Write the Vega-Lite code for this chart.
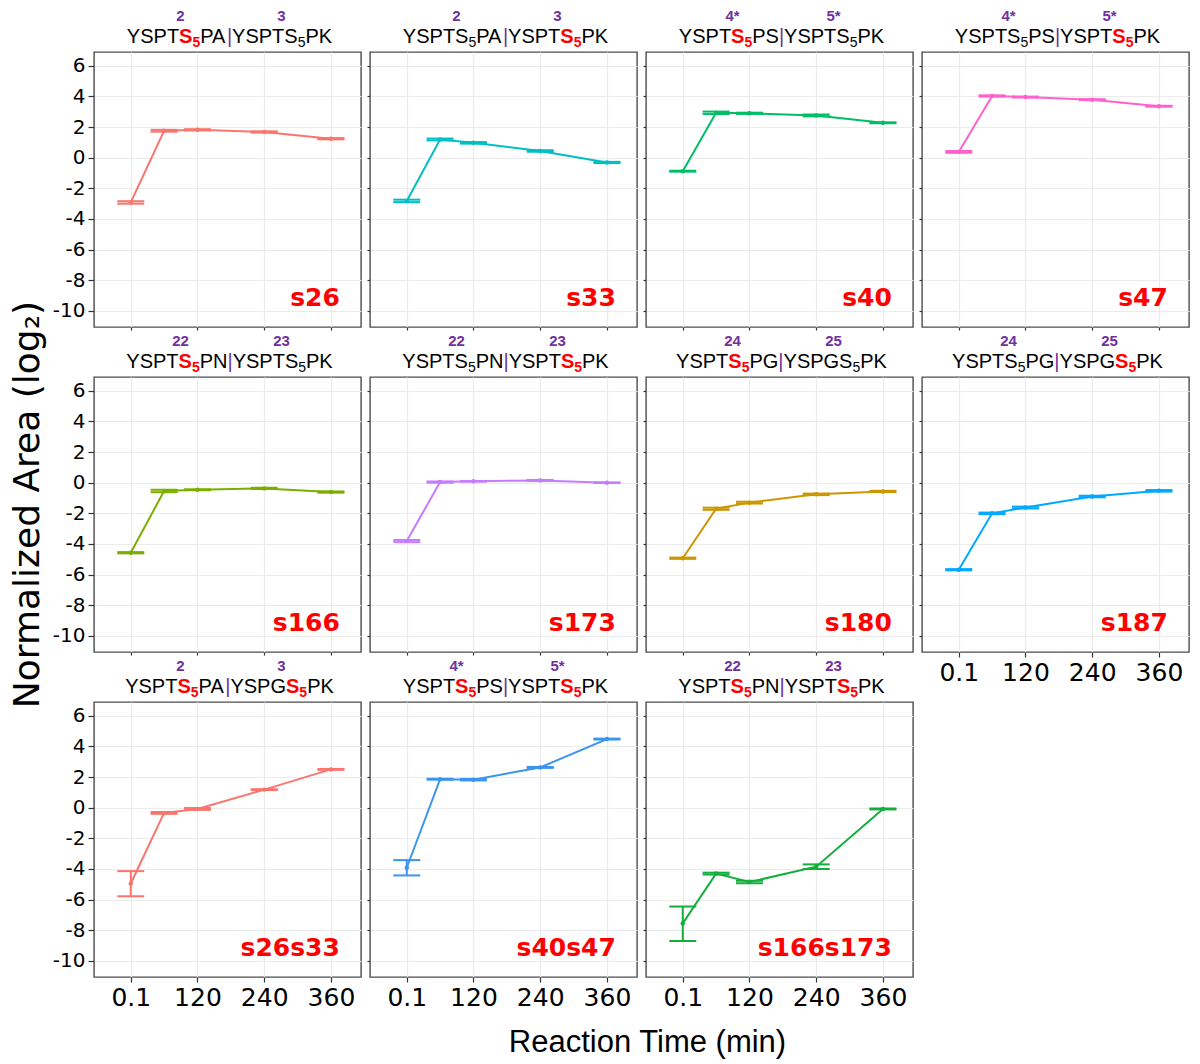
{
 "$schema": "https://vega.github.io/schema/vega-lite/v6.json",
 "background": "white",
 "padding": {"left": 8, "top": 8, "right": 4, "bottom": 4},
 "columns": 4,
 "spacing": {"row": 50, "column": 9},
 "bounds": "flush",
 "datasets": {"d": [
  {"p":"s26","t":0.1,"m":-2.92,"lo":-3.0,"hi":-2.84},
  {"p":"s26","t":60,"m":1.76,"lo":1.7,"hi":1.82},
  {"p":"s26","t":120,"m":1.82,"lo":1.78,"hi":1.86},
  {"p":"s26","t":240,"m":1.68,"lo":1.64,"hi":1.72},
  {"p":"s26","t":360,"m":1.24,"lo":1.2,"hi":1.28},
  {"p":"s33","t":0.1,"m":-2.82,"lo":-2.9,"hi":-2.74},
  {"p":"s33","t":60,"m":1.19,"lo":1.13,"hi":1.25},
  {"p":"s33","t":120,"m":0.97,"lo":0.92,"hi":1.02},
  {"p":"s33","t":240,"m":0.44,"lo":0.39,"hi":0.49},
  {"p":"s33","t":360,"m":-0.31,"lo":-0.35,"hi":-0.27},
  {"p":"s40","t":0.1,"m":-0.88,"lo":-0.91,"hi":-0.85},
  {"p":"s40","t":60,"m":2.93,"lo":2.85,"hi":3.01},
  {"p":"s40","t":120,"m":2.9,"lo":2.86,"hi":2.94},
  {"p":"s40","t":240,"m":2.76,"lo":2.7,"hi":2.82},
  {"p":"s40","t":360,"m":2.28,"lo":2.25,"hi":2.31},
  {"p":"s47","t":0.1,"m":0.38,"lo":0.32,"hi":0.44},
  {"p":"s47","t":60,"m":4.03,"lo":3.99,"hi":4.07},
  {"p":"s47","t":120,"m":3.96,"lo":3.93,"hi":3.99},
  {"p":"s47","t":240,"m":3.79,"lo":3.76,"hi":3.82},
  {"p":"s47","t":360,"m":3.36,"lo":3.33,"hi":3.39},
  {"p":"s166","t":0.1,"m":-4.57,"lo":-4.61,"hi":-4.53},
  {"p":"s166","t":60,"m":-0.54,"lo":-0.62,"hi":-0.46},
  {"p":"s166","t":120,"m":-0.46,"lo":-0.49,"hi":-0.43},
  {"p":"s166","t":240,"m":-0.37,"lo":-0.41,"hi":-0.33},
  {"p":"s166","t":360,"m":-0.61,"lo":-0.65,"hi":-0.57},
  {"p":"s173","t":0.1,"m":-3.81,"lo":-3.88,"hi":-3.74},
  {"p":"s173","t":60,"m":0.04,"lo":0.0,"hi":0.08},
  {"p":"s173","t":120,"m":0.09,"lo":0.07,"hi":0.11},
  {"p":"s173","t":240,"m":0.15,"lo":0.12,"hi":0.18},
  {"p":"s173","t":360,"m":0.0,"lo":-0.02,"hi":0.02},
  {"p":"s180","t":0.1,"m":-4.93,"lo":-4.97,"hi":-4.89},
  {"p":"s180","t":60,"m":-1.7,"lo":-1.77,"hi":-1.63},
  {"p":"s180","t":120,"m":-1.3,"lo":-1.36,"hi":-1.24},
  {"p":"s180","t":240,"m":-0.76,"lo":-0.81,"hi":-0.71},
  {"p":"s180","t":360,"m":-0.57,"lo":-0.61,"hi":-0.53},
  {"p":"s187","t":0.1,"m":-5.68,"lo":-5.72,"hi":-5.64},
  {"p":"s187","t":60,"m":-2.0,"lo":-2.05,"hi":-1.95},
  {"p":"s187","t":120,"m":-1.62,"lo":-1.68,"hi":-1.56},
  {"p":"s187","t":240,"m":-0.9,"lo":-0.95,"hi":-0.85},
  {"p":"s187","t":360,"m":-0.53,"lo":-0.58,"hi":-0.48},
  {"p":"s26s33","t":0.1,"m":-4.95,"lo":-5.78,"hi":-4.14},
  {"p":"s26s33","t":60,"m":-0.34,"lo":-0.4,"hi":-0.28},
  {"p":"s26s33","t":120,"m":-0.08,"lo":-0.14,"hi":-0.02},
  {"p":"s26s33","t":240,"m":1.18,"lo":1.15,"hi":1.21},
  {"p":"s26s33","t":360,"m":2.5,"lo":2.47,"hi":2.53},
  {"p":"s40s47","t":0.1,"m":-3.92,"lo":-4.42,"hi":-3.42},
  {"p":"s40s47","t":60,"m":1.86,"lo":1.83,"hi":1.89},
  {"p":"s40s47","t":120,"m":1.83,"lo":1.78,"hi":1.88},
  {"p":"s40s47","t":240,"m":2.63,"lo":2.6,"hi":2.66},
  {"p":"s40s47","t":360,"m":4.48,"lo":4.45,"hi":4.51},
  {"p":"s166s173","t":0.1,"m":-7.55,"lo":-8.7,"hi":-6.45},
  {"p":"s166s173","t":60,"m":-4.3,"lo":-4.36,"hi":-4.24},
  {"p":"s166s173","t":120,"m":-4.85,"lo":-4.93,"hi":-4.77},
  {"p":"s166s173","t":240,"m":-3.85,"lo":-4.0,"hi":-3.7},
  {"p":"s166s173","t":360,"m":-0.08,"lo":-0.11,"hi":-0.05}
 ]},
 "concat": [
  {"width":267,"height":275,"layer":[
   {"data":{"name":"d"},"transform":[{"filter":"datum.p==='s26'"}],
    "encoding":{"x":{"field":"t","type":"quantitative","title":null,"scale":{"domain":[-66,414],"nice":false,"zero":false},"axis":{"values":[0.1,120,240,360],"tickCount":20,"labels":false,"tickSize":3,"title":null}}},
    "layer":[
     {"mark":{"type":"rule","color":"#F8766D","strokeWidth":2},"encoding":{"y":{"field":"lo","type":"quantitative","title":null,"scale":{"domain":[-11.05,6.9],"nice":false,"zero":false},"axis":{"values":[-10,-8,-6,-4,-2,0,2,4,6],"tickCount":20,"labelExpr":"datum.value + ''","labelFontSize":20,"labelOverlap":false,"tickSize":6,"labelPadding":3,"title":null}},"y2":{"field":"hi"}}},
     {"mark":{"type":"tick","orient":"horizontal","color":"#F8766D","size":27,"thickness":2,"opacity":1},"encoding":{"y":{"field":"lo","type":"quantitative","title":null}}},
     {"mark":{"type":"tick","orient":"horizontal","color":"#F8766D","size":27,"thickness":2,"opacity":1},"encoding":{"y":{"field":"hi","type":"quantitative","title":null}}},
     {"mark":{"type":"line","color":"#F8766D","strokeWidth":2},"encoding":{"y":{"field":"m","type":"quantitative","title":null}}},
     {"mark":{"type":"point","filled":true,"color":"#F8766D","size":20,"opacity":1},"encoding":{"y":{"field":"m","type":"quantitative","title":null}}}
    ]},
   {"data":{"values":[{}]},"layer":[
    {"mark":{"type":"text","font":"DejaVu Sans","fontWeight":"bold","fontSize":25,"color":"#FF0000","align":"right"},"encoding":{"x":{"datum":376},"y":{"datum":-9.7},"text":{"value":"s26"}}},
    {"mark":{"type":"text"},"encoding":{"x":{"datum":-6.93},"y":{"datum":7.485},"text":{"value":"YSPT"}}},
    {"mark":{"type":"text","color":"#FF0000","fontWeight":"bold"},"encoding":{"x":{"datum":86.99},"y":{"datum":7.485},"text":{"value":"S"}}},
    {"mark":{"type":"text","color":"#FF0000","fontWeight":"bold","fontSize":14},"encoding":{"x":{"datum":110.97},"y":{"datum":7.225},"text":{"value":"5"}}},
    {"mark":{"type":"text"},"encoding":{"x":{"datum":124.96},"y":{"datum":7.485},"text":{"value":"PA"}}},
    {"mark":{"type":"text","color":"#7030A0"},"encoding":{"x":{"datum":172.92},"y":{"datum":7.485},"text":{"value":"|"}}},
    {"mark":{"type":"text"},"encoding":{"x":{"datum":182.27},"y":{"datum":7.485},"text":{"value":"YSPT"}}},
    {"mark":{"type":"text"},"encoding":{"x":{"datum":276.19},"y":{"datum":7.485},"text":{"value":"S"}}},
    {"mark":{"type":"text","fontSize":14},"encoding":{"x":{"datum":300.17},"y":{"datum":7.225},"text":{"value":"5"}}},
    {"mark":{"type":"text"},"encoding":{"x":{"datum":314.16},"y":{"datum":7.485},"text":{"value":"PK"}}},
    {"mark":{"type":"text","color":"#7030A0","fontWeight":"bold","fontSize":15,"align":"center"},"encoding":{"x":{"datum":89.5},"y":{"datum":8.9},"text":{"value":"2"}}},
    {"mark":{"type":"text","color":"#7030A0","fontWeight":"bold","fontSize":15,"align":"center"},"encoding":{"x":{"datum":271.1},"y":{"datum":8.9},"text":{"value":"3"}}}
   ]}
  ]},
  {"width":267,"height":275,"layer":[
   {"data":{"name":"d"},"transform":[{"filter":"datum.p==='s33'"}],
    "encoding":{"x":{"field":"t","type":"quantitative","title":null,"scale":{"domain":[-66,414],"nice":false,"zero":false},"axis":{"values":[0.1,120,240,360],"tickCount":20,"labels":false,"tickSize":3,"title":null}}},
    "layer":[
     {"mark":{"type":"rule","color":"#00BFC4","strokeWidth":2},"encoding":{"y":{"field":"lo","type":"quantitative","title":null,"scale":{"domain":[-11.05,6.9],"nice":false,"zero":false},"axis":{"values":[-10,-8,-6,-4,-2,0,2,4,6],"tickCount":20,"labels":false,"tickSize":3,"title":null}},"y2":{"field":"hi"}}},
     {"mark":{"type":"tick","orient":"horizontal","color":"#00BFC4","size":27,"thickness":2,"opacity":1},"encoding":{"y":{"field":"lo","type":"quantitative","title":null}}},
     {"mark":{"type":"tick","orient":"horizontal","color":"#00BFC4","size":27,"thickness":2,"opacity":1},"encoding":{"y":{"field":"hi","type":"quantitative","title":null}}},
     {"mark":{"type":"line","color":"#00BFC4","strokeWidth":2},"encoding":{"y":{"field":"m","type":"quantitative","title":null}}},
     {"mark":{"type":"point","filled":true,"color":"#00BFC4","size":20,"opacity":1},"encoding":{"y":{"field":"m","type":"quantitative","title":null}}}
    ]},
   {"data":{"values":[{}]},"layer":[
    {"mark":{"type":"text","font":"DejaVu Sans","fontWeight":"bold","fontSize":25,"color":"#FF0000","align":"right"},"encoding":{"x":{"datum":376},"y":{"datum":-9.7},"text":{"value":"s33"}}},
    {"mark":{"type":"text"},"encoding":{"x":{"datum":-6.93},"y":{"datum":7.485},"text":{"value":"YSPT"}}},
    {"mark":{"type":"text"},"encoding":{"x":{"datum":86.99},"y":{"datum":7.485},"text":{"value":"S"}}},
    {"mark":{"type":"text","fontSize":14},"encoding":{"x":{"datum":110.97},"y":{"datum":7.225},"text":{"value":"5"}}},
    {"mark":{"type":"text"},"encoding":{"x":{"datum":124.96},"y":{"datum":7.485},"text":{"value":"PA"}}},
    {"mark":{"type":"text","color":"#7030A0"},"encoding":{"x":{"datum":172.92},"y":{"datum":7.485},"text":{"value":"|"}}},
    {"mark":{"type":"text"},"encoding":{"x":{"datum":182.27},"y":{"datum":7.485},"text":{"value":"YSPT"}}},
    {"mark":{"type":"text","color":"#FF0000","fontWeight":"bold"},"encoding":{"x":{"datum":276.19},"y":{"datum":7.485},"text":{"value":"S"}}},
    {"mark":{"type":"text","color":"#FF0000","fontWeight":"bold","fontSize":14},"encoding":{"x":{"datum":300.17},"y":{"datum":7.225},"text":{"value":"5"}}},
    {"mark":{"type":"text"},"encoding":{"x":{"datum":314.16},"y":{"datum":7.485},"text":{"value":"PK"}}},
    {"mark":{"type":"text","color":"#7030A0","fontWeight":"bold","fontSize":15,"align":"center"},"encoding":{"x":{"datum":89.5},"y":{"datum":8.9},"text":{"value":"2"}}},
    {"mark":{"type":"text","color":"#7030A0","fontWeight":"bold","fontSize":15,"align":"center"},"encoding":{"x":{"datum":271.1},"y":{"datum":8.9},"text":{"value":"3"}}}
   ]}
  ]},
  {"width":267,"height":275,"layer":[
   {"data":{"name":"d"},"transform":[{"filter":"datum.p==='s40'"}],
    "encoding":{"x":{"field":"t","type":"quantitative","title":null,"scale":{"domain":[-66,414],"nice":false,"zero":false},"axis":{"values":[0.1,120,240,360],"tickCount":20,"labels":false,"tickSize":3,"title":null}}},
    "layer":[
     {"mark":{"type":"rule","color":"#00BE67","strokeWidth":2},"encoding":{"y":{"field":"lo","type":"quantitative","title":null,"scale":{"domain":[-11.05,6.9],"nice":false,"zero":false},"axis":{"values":[-10,-8,-6,-4,-2,0,2,4,6],"tickCount":20,"labels":false,"tickSize":3,"title":null}},"y2":{"field":"hi"}}},
     {"mark":{"type":"tick","orient":"horizontal","color":"#00BE67","size":27,"thickness":2,"opacity":1},"encoding":{"y":{"field":"lo","type":"quantitative","title":null}}},
     {"mark":{"type":"tick","orient":"horizontal","color":"#00BE67","size":27,"thickness":2,"opacity":1},"encoding":{"y":{"field":"hi","type":"quantitative","title":null}}},
     {"mark":{"type":"line","color":"#00BE67","strokeWidth":2},"encoding":{"y":{"field":"m","type":"quantitative","title":null}}},
     {"mark":{"type":"point","filled":true,"color":"#00BE67","size":20,"opacity":1},"encoding":{"y":{"field":"m","type":"quantitative","title":null}}}
    ]},
   {"data":{"values":[{}]},"layer":[
    {"mark":{"type":"text","font":"DejaVu Sans","fontWeight":"bold","fontSize":25,"color":"#FF0000","align":"right"},"encoding":{"x":{"datum":376},"y":{"datum":-9.7},"text":{"value":"s40"}}},
    {"mark":{"type":"text"},"encoding":{"x":{"datum":-6.93},"y":{"datum":7.485},"text":{"value":"YSPT"}}},
    {"mark":{"type":"text","color":"#FF0000","fontWeight":"bold"},"encoding":{"x":{"datum":86.99},"y":{"datum":7.485},"text":{"value":"S"}}},
    {"mark":{"type":"text","color":"#FF0000","fontWeight":"bold","fontSize":14},"encoding":{"x":{"datum":110.97},"y":{"datum":7.225},"text":{"value":"5"}}},
    {"mark":{"type":"text"},"encoding":{"x":{"datum":124.96},"y":{"datum":7.485},"text":{"value":"PS"}}},
    {"mark":{"type":"text","color":"#7030A0"},"encoding":{"x":{"datum":172.92},"y":{"datum":7.485},"text":{"value":"|"}}},
    {"mark":{"type":"text"},"encoding":{"x":{"datum":182.27},"y":{"datum":7.485},"text":{"value":"YSPT"}}},
    {"mark":{"type":"text"},"encoding":{"x":{"datum":276.19},"y":{"datum":7.485},"text":{"value":"S"}}},
    {"mark":{"type":"text","fontSize":14},"encoding":{"x":{"datum":300.17},"y":{"datum":7.225},"text":{"value":"5"}}},
    {"mark":{"type":"text"},"encoding":{"x":{"datum":314.16},"y":{"datum":7.485},"text":{"value":"PK"}}},
    {"mark":{"type":"text","color":"#7030A0","fontWeight":"bold","fontSize":15,"align":"center"},"encoding":{"x":{"datum":89.5},"y":{"datum":8.9},"text":{"value":"4*"}}},
    {"mark":{"type":"text","color":"#7030A0","fontWeight":"bold","fontSize":15,"align":"center"},"encoding":{"x":{"datum":271.1},"y":{"datum":8.9},"text":{"value":"5*"}}}
   ]}
  ]},
  {"width":267,"height":275,"layer":[
   {"data":{"name":"d"},"transform":[{"filter":"datum.p==='s47'"}],
    "encoding":{"x":{"field":"t","type":"quantitative","title":null,"scale":{"domain":[-66,414],"nice":false,"zero":false},"axis":{"values":[0.1,120,240,360],"tickCount":20,"labels":false,"tickSize":3,"title":null}}},
    "layer":[
     {"mark":{"type":"rule","color":"#FF61CC","strokeWidth":2},"encoding":{"y":{"field":"lo","type":"quantitative","title":null,"scale":{"domain":[-11.05,6.9],"nice":false,"zero":false},"axis":{"values":[-10,-8,-6,-4,-2,0,2,4,6],"tickCount":20,"labels":false,"tickSize":3,"title":null}},"y2":{"field":"hi"}}},
     {"mark":{"type":"tick","orient":"horizontal","color":"#FF61CC","size":27,"thickness":2,"opacity":1},"encoding":{"y":{"field":"lo","type":"quantitative","title":null}}},
     {"mark":{"type":"tick","orient":"horizontal","color":"#FF61CC","size":27,"thickness":2,"opacity":1},"encoding":{"y":{"field":"hi","type":"quantitative","title":null}}},
     {"mark":{"type":"line","color":"#FF61CC","strokeWidth":2},"encoding":{"y":{"field":"m","type":"quantitative","title":null}}},
     {"mark":{"type":"point","filled":true,"color":"#FF61CC","size":20,"opacity":1},"encoding":{"y":{"field":"m","type":"quantitative","title":null}}}
    ]},
   {"data":{"values":[{}]},"layer":[
    {"mark":{"type":"text","font":"DejaVu Sans","fontWeight":"bold","fontSize":25,"color":"#FF0000","align":"right"},"encoding":{"x":{"datum":376},"y":{"datum":-9.7},"text":{"value":"s47"}}},
    {"mark":{"type":"text"},"encoding":{"x":{"datum":-6.93},"y":{"datum":7.485},"text":{"value":"YSPT"}}},
    {"mark":{"type":"text"},"encoding":{"x":{"datum":86.99},"y":{"datum":7.485},"text":{"value":"S"}}},
    {"mark":{"type":"text","fontSize":14},"encoding":{"x":{"datum":110.97},"y":{"datum":7.225},"text":{"value":"5"}}},
    {"mark":{"type":"text"},"encoding":{"x":{"datum":124.96},"y":{"datum":7.485},"text":{"value":"PS"}}},
    {"mark":{"type":"text","color":"#7030A0"},"encoding":{"x":{"datum":172.92},"y":{"datum":7.485},"text":{"value":"|"}}},
    {"mark":{"type":"text"},"encoding":{"x":{"datum":182.27},"y":{"datum":7.485},"text":{"value":"YSPT"}}},
    {"mark":{"type":"text","color":"#FF0000","fontWeight":"bold"},"encoding":{"x":{"datum":276.19},"y":{"datum":7.485},"text":{"value":"S"}}},
    {"mark":{"type":"text","color":"#FF0000","fontWeight":"bold","fontSize":14},"encoding":{"x":{"datum":300.17},"y":{"datum":7.225},"text":{"value":"5"}}},
    {"mark":{"type":"text"},"encoding":{"x":{"datum":314.16},"y":{"datum":7.485},"text":{"value":"PK"}}},
    {"mark":{"type":"text","color":"#7030A0","fontWeight":"bold","fontSize":15,"align":"center"},"encoding":{"x":{"datum":89.5},"y":{"datum":8.9},"text":{"value":"4*"}}},
    {"mark":{"type":"text","color":"#7030A0","fontWeight":"bold","fontSize":15,"align":"center"},"encoding":{"x":{"datum":271.1},"y":{"datum":8.9},"text":{"value":"5*"}}}
   ]}
  ]},
  {"width":267,"height":275,"layer":[
   {"data":{"name":"d"},"transform":[{"filter":"datum.p==='s166'"}],
    "encoding":{"x":{"field":"t","type":"quantitative","title":null,"scale":{"domain":[-66,414],"nice":false,"zero":false},"axis":{"values":[0.1,120,240,360],"tickCount":20,"labels":false,"tickSize":3,"title":null}}},
    "layer":[
     {"mark":{"type":"rule","color":"#7CAE00","strokeWidth":2},"encoding":{"y":{"field":"lo","type":"quantitative","title":"Normalized Area (log₂)","scale":{"domain":[-11.05,6.9],"nice":false,"zero":false},"axis":{"values":[-10,-8,-6,-4,-2,0,2,4,6],"tickCount":20,"labelExpr":"datum.value + ''","labelFontSize":20,"labelOverlap":false,"tickSize":6,"labelPadding":3,"title":"Normalized Area (log₂)","titleFontSize":36,"titleY":127,"titlePadding":6}},"y2":{"field":"hi"}}},
     {"mark":{"type":"tick","orient":"horizontal","color":"#7CAE00","size":27,"thickness":2,"opacity":1},"encoding":{"y":{"field":"lo","type":"quantitative","title":"Normalized Area (log₂)"}}},
     {"mark":{"type":"tick","orient":"horizontal","color":"#7CAE00","size":27,"thickness":2,"opacity":1},"encoding":{"y":{"field":"hi","type":"quantitative","title":"Normalized Area (log₂)"}}},
     {"mark":{"type":"line","color":"#7CAE00","strokeWidth":2},"encoding":{"y":{"field":"m","type":"quantitative","title":"Normalized Area (log₂)"}}},
     {"mark":{"type":"point","filled":true,"color":"#7CAE00","size":20,"opacity":1},"encoding":{"y":{"field":"m","type":"quantitative","title":"Normalized Area (log₂)"}}}
    ]},
   {"data":{"values":[{}]},"layer":[
    {"mark":{"type":"text","font":"DejaVu Sans","fontWeight":"bold","fontSize":25,"color":"#FF0000","align":"right"},"encoding":{"x":{"datum":376},"y":{"datum":-9.7},"text":{"value":"s166"}}},
    {"mark":{"type":"text"},"encoding":{"x":{"datum":-7.92},"y":{"datum":7.485},"text":{"value":"YSPT"}}},
    {"mark":{"type":"text","color":"#FF0000","fontWeight":"bold"},"encoding":{"x":{"datum":86.0},"y":{"datum":7.485},"text":{"value":"S"}}},
    {"mark":{"type":"text","color":"#FF0000","fontWeight":"bold","fontSize":14},"encoding":{"x":{"datum":109.98},"y":{"datum":7.225},"text":{"value":"5"}}},
    {"mark":{"type":"text"},"encoding":{"x":{"datum":123.97},"y":{"datum":7.485},"text":{"value":"PN"}}},
    {"mark":{"type":"text","color":"#7030A0"},"encoding":{"x":{"datum":173.91},"y":{"datum":7.485},"text":{"value":"|"}}},
    {"mark":{"type":"text"},"encoding":{"x":{"datum":183.26},"y":{"datum":7.485},"text":{"value":"YSPT"}}},
    {"mark":{"type":"text"},"encoding":{"x":{"datum":277.18},"y":{"datum":7.485},"text":{"value":"S"}}},
    {"mark":{"type":"text","fontSize":14},"encoding":{"x":{"datum":301.16},"y":{"datum":7.225},"text":{"value":"5"}}},
    {"mark":{"type":"text"},"encoding":{"x":{"datum":315.15},"y":{"datum":7.485},"text":{"value":"PK"}}},
    {"mark":{"type":"text","color":"#7030A0","fontWeight":"bold","fontSize":15,"align":"center"},"encoding":{"x":{"datum":89.5},"y":{"datum":8.9},"text":{"value":"22"}}},
    {"mark":{"type":"text","color":"#7030A0","fontWeight":"bold","fontSize":15,"align":"center"},"encoding":{"x":{"datum":271.1},"y":{"datum":8.9},"text":{"value":"23"}}}
   ]}
  ]},
  {"width":267,"height":275,"layer":[
   {"data":{"name":"d"},"transform":[{"filter":"datum.p==='s173'"}],
    "encoding":{"x":{"field":"t","type":"quantitative","title":null,"scale":{"domain":[-66,414],"nice":false,"zero":false},"axis":{"values":[0.1,120,240,360],"tickCount":20,"labels":false,"tickSize":3,"title":null}}},
    "layer":[
     {"mark":{"type":"rule","color":"#C77CFF","strokeWidth":2},"encoding":{"y":{"field":"lo","type":"quantitative","title":null,"scale":{"domain":[-11.05,6.9],"nice":false,"zero":false},"axis":{"values":[-10,-8,-6,-4,-2,0,2,4,6],"tickCount":20,"labels":false,"tickSize":3,"title":null}},"y2":{"field":"hi"}}},
     {"mark":{"type":"tick","orient":"horizontal","color":"#C77CFF","size":27,"thickness":2,"opacity":1},"encoding":{"y":{"field":"lo","type":"quantitative","title":null}}},
     {"mark":{"type":"tick","orient":"horizontal","color":"#C77CFF","size":27,"thickness":2,"opacity":1},"encoding":{"y":{"field":"hi","type":"quantitative","title":null}}},
     {"mark":{"type":"line","color":"#C77CFF","strokeWidth":2},"encoding":{"y":{"field":"m","type":"quantitative","title":null}}},
     {"mark":{"type":"point","filled":true,"color":"#C77CFF","size":20,"opacity":1},"encoding":{"y":{"field":"m","type":"quantitative","title":null}}}
    ]},
   {"data":{"values":[{}]},"layer":[
    {"mark":{"type":"text","font":"DejaVu Sans","fontWeight":"bold","fontSize":25,"color":"#FF0000","align":"right"},"encoding":{"x":{"datum":376},"y":{"datum":-9.7},"text":{"value":"s173"}}},
    {"mark":{"type":"text"},"encoding":{"x":{"datum":-7.92},"y":{"datum":7.485},"text":{"value":"YSPT"}}},
    {"mark":{"type":"text"},"encoding":{"x":{"datum":86.0},"y":{"datum":7.485},"text":{"value":"S"}}},
    {"mark":{"type":"text","fontSize":14},"encoding":{"x":{"datum":109.98},"y":{"datum":7.225},"text":{"value":"5"}}},
    {"mark":{"type":"text"},"encoding":{"x":{"datum":123.97},"y":{"datum":7.485},"text":{"value":"PN"}}},
    {"mark":{"type":"text","color":"#7030A0"},"encoding":{"x":{"datum":173.91},"y":{"datum":7.485},"text":{"value":"|"}}},
    {"mark":{"type":"text"},"encoding":{"x":{"datum":183.26},"y":{"datum":7.485},"text":{"value":"YSPT"}}},
    {"mark":{"type":"text","color":"#FF0000","fontWeight":"bold"},"encoding":{"x":{"datum":277.18},"y":{"datum":7.485},"text":{"value":"S"}}},
    {"mark":{"type":"text","color":"#FF0000","fontWeight":"bold","fontSize":14},"encoding":{"x":{"datum":301.16},"y":{"datum":7.225},"text":{"value":"5"}}},
    {"mark":{"type":"text"},"encoding":{"x":{"datum":315.15},"y":{"datum":7.485},"text":{"value":"PK"}}},
    {"mark":{"type":"text","color":"#7030A0","fontWeight":"bold","fontSize":15,"align":"center"},"encoding":{"x":{"datum":89.5},"y":{"datum":8.9},"text":{"value":"22"}}},
    {"mark":{"type":"text","color":"#7030A0","fontWeight":"bold","fontSize":15,"align":"center"},"encoding":{"x":{"datum":271.1},"y":{"datum":8.9},"text":{"value":"23"}}}
   ]}
  ]},
  {"width":267,"height":275,"layer":[
   {"data":{"name":"d"},"transform":[{"filter":"datum.p==='s180'"}],
    "encoding":{"x":{"field":"t","type":"quantitative","title":null,"scale":{"domain":[-66,414],"nice":false,"zero":false},"axis":{"values":[0.1,120,240,360],"tickCount":20,"labels":false,"tickSize":3,"title":null}}},
    "layer":[
     {"mark":{"type":"rule","color":"#CD9600","strokeWidth":2},"encoding":{"y":{"field":"lo","type":"quantitative","title":null,"scale":{"domain":[-11.05,6.9],"nice":false,"zero":false},"axis":{"values":[-10,-8,-6,-4,-2,0,2,4,6],"tickCount":20,"labels":false,"tickSize":3,"title":null}},"y2":{"field":"hi"}}},
     {"mark":{"type":"tick","orient":"horizontal","color":"#CD9600","size":27,"thickness":2,"opacity":1},"encoding":{"y":{"field":"lo","type":"quantitative","title":null}}},
     {"mark":{"type":"tick","orient":"horizontal","color":"#CD9600","size":27,"thickness":2,"opacity":1},"encoding":{"y":{"field":"hi","type":"quantitative","title":null}}},
     {"mark":{"type":"line","color":"#CD9600","strokeWidth":2},"encoding":{"y":{"field":"m","type":"quantitative","title":null}}},
     {"mark":{"type":"point","filled":true,"color":"#CD9600","size":20,"opacity":1},"encoding":{"y":{"field":"m","type":"quantitative","title":null}}}
    ]},
   {"data":{"values":[{}]},"layer":[
    {"mark":{"type":"text","font":"DejaVu Sans","fontWeight":"bold","fontSize":25,"color":"#FF0000","align":"right"},"encoding":{"x":{"datum":376},"y":{"datum":-9.7},"text":{"value":"s180"}}},
    {"mark":{"type":"text"},"encoding":{"x":{"datum":-11.93},"y":{"datum":7.485},"text":{"value":"YSPT"}}},
    {"mark":{"type":"text","color":"#FF0000","fontWeight":"bold"},"encoding":{"x":{"datum":81.99},"y":{"datum":7.485},"text":{"value":"S"}}},
    {"mark":{"type":"text","color":"#FF0000","fontWeight":"bold","fontSize":14},"encoding":{"x":{"datum":105.97},"y":{"datum":7.225},"text":{"value":"5"}}},
    {"mark":{"type":"text"},"encoding":{"x":{"datum":119.96},"y":{"datum":7.485},"text":{"value":"PG"}}},
    {"mark":{"type":"text","color":"#7030A0"},"encoding":{"x":{"datum":171.91},"y":{"datum":7.485},"text":{"value":"|"}}},
    {"mark":{"type":"text"},"encoding":{"x":{"datum":181.26},"y":{"datum":7.485},"text":{"value":"YSPG"}}},
    {"mark":{"type":"text"},"encoding":{"x":{"datum":281.19},"y":{"datum":7.485},"text":{"value":"S"}}},
    {"mark":{"type":"text","fontSize":14},"encoding":{"x":{"datum":305.17},"y":{"datum":7.225},"text":{"value":"5"}}},
    {"mark":{"type":"text"},"encoding":{"x":{"datum":319.16},"y":{"datum":7.485},"text":{"value":"PK"}}},
    {"mark":{"type":"text","color":"#7030A0","fontWeight":"bold","fontSize":15,"align":"center"},"encoding":{"x":{"datum":89.5},"y":{"datum":8.9},"text":{"value":"24"}}},
    {"mark":{"type":"text","color":"#7030A0","fontWeight":"bold","fontSize":15,"align":"center"},"encoding":{"x":{"datum":271.1},"y":{"datum":8.9},"text":{"value":"25"}}}
   ]}
  ]},
  {"width":267,"height":275,"layer":[
   {"data":{"name":"d"},"transform":[{"filter":"datum.p==='s187'"}],
    "encoding":{"x":{"field":"t","type":"quantitative","title":null,"scale":{"domain":[-66,414],"nice":false,"zero":false},"axis":{"values":[0.1,120,240,360],"tickCount":20,"labelExpr":"datum.value + ''","labelFontSize":25,"labelOverlap":false,"tickSize":5,"labelPadding":3,"title":null}}},
    "layer":[
     {"mark":{"type":"rule","color":"#00A9FF","strokeWidth":2},"encoding":{"y":{"field":"lo","type":"quantitative","title":null,"scale":{"domain":[-11.05,6.9],"nice":false,"zero":false},"axis":{"values":[-10,-8,-6,-4,-2,0,2,4,6],"tickCount":20,"labels":false,"tickSize":3,"title":null}},"y2":{"field":"hi"}}},
     {"mark":{"type":"tick","orient":"horizontal","color":"#00A9FF","size":27,"thickness":2,"opacity":1},"encoding":{"y":{"field":"lo","type":"quantitative","title":null}}},
     {"mark":{"type":"tick","orient":"horizontal","color":"#00A9FF","size":27,"thickness":2,"opacity":1},"encoding":{"y":{"field":"hi","type":"quantitative","title":null}}},
     {"mark":{"type":"line","color":"#00A9FF","strokeWidth":2},"encoding":{"y":{"field":"m","type":"quantitative","title":null}}},
     {"mark":{"type":"point","filled":true,"color":"#00A9FF","size":20,"opacity":1},"encoding":{"y":{"field":"m","type":"quantitative","title":null}}}
    ]},
   {"data":{"values":[{}]},"layer":[
    {"mark":{"type":"text","font":"DejaVu Sans","fontWeight":"bold","fontSize":25,"color":"#FF0000","align":"right"},"encoding":{"x":{"datum":376},"y":{"datum":-9.7},"text":{"value":"s187"}}},
    {"mark":{"type":"text"},"encoding":{"x":{"datum":-11.93},"y":{"datum":7.485},"text":{"value":"YSPT"}}},
    {"mark":{"type":"text"},"encoding":{"x":{"datum":81.99},"y":{"datum":7.485},"text":{"value":"S"}}},
    {"mark":{"type":"text","fontSize":14},"encoding":{"x":{"datum":105.97},"y":{"datum":7.225},"text":{"value":"5"}}},
    {"mark":{"type":"text"},"encoding":{"x":{"datum":119.96},"y":{"datum":7.485},"text":{"value":"PG"}}},
    {"mark":{"type":"text","color":"#7030A0"},"encoding":{"x":{"datum":171.91},"y":{"datum":7.485},"text":{"value":"|"}}},
    {"mark":{"type":"text"},"encoding":{"x":{"datum":181.26},"y":{"datum":7.485},"text":{"value":"YSPG"}}},
    {"mark":{"type":"text","color":"#FF0000","fontWeight":"bold"},"encoding":{"x":{"datum":281.19},"y":{"datum":7.485},"text":{"value":"S"}}},
    {"mark":{"type":"text","color":"#FF0000","fontWeight":"bold","fontSize":14},"encoding":{"x":{"datum":305.17},"y":{"datum":7.225},"text":{"value":"5"}}},
    {"mark":{"type":"text"},"encoding":{"x":{"datum":319.16},"y":{"datum":7.485},"text":{"value":"PK"}}},
    {"mark":{"type":"text","color":"#7030A0","fontWeight":"bold","fontSize":15,"align":"center"},"encoding":{"x":{"datum":89.5},"y":{"datum":8.9},"text":{"value":"24"}}},
    {"mark":{"type":"text","color":"#7030A0","fontWeight":"bold","fontSize":15,"align":"center"},"encoding":{"x":{"datum":271.1},"y":{"datum":8.9},"text":{"value":"25"}}}
   ]}
  ]},
  {"width":267,"height":275,"layer":[
   {"data":{"name":"d"},"transform":[{"filter":"datum.p==='s26s33'"}],
    "encoding":{"x":{"field":"t","type":"quantitative","title":null,"scale":{"domain":[-66,414],"nice":false,"zero":false},"axis":{"values":[0.1,120,240,360],"tickCount":20,"labelExpr":"datum.value + ''","labelFontSize":25,"labelOverlap":false,"tickSize":5,"labelPadding":3,"title":null}}},
    "layer":[
     {"mark":{"type":"rule","color":"#F8766D","strokeWidth":2},"encoding":{"y":{"field":"lo","type":"quantitative","title":null,"scale":{"domain":[-11.05,6.9],"nice":false,"zero":false},"axis":{"values":[-10,-8,-6,-4,-2,0,2,4,6],"tickCount":20,"labelExpr":"datum.value + ''","labelFontSize":20,"labelOverlap":false,"tickSize":6,"labelPadding":3,"title":null}},"y2":{"field":"hi"}}},
     {"mark":{"type":"tick","orient":"horizontal","color":"#F8766D","size":27,"thickness":2,"opacity":1},"encoding":{"y":{"field":"lo","type":"quantitative","title":null}}},
     {"mark":{"type":"tick","orient":"horizontal","color":"#F8766D","size":27,"thickness":2,"opacity":1},"encoding":{"y":{"field":"hi","type":"quantitative","title":null}}},
     {"mark":{"type":"line","color":"#F8766D","strokeWidth":2},"encoding":{"y":{"field":"m","type":"quantitative","title":null}}},
     {"mark":{"type":"point","filled":true,"color":"#F8766D","size":20,"opacity":1},"encoding":{"y":{"field":"m","type":"quantitative","title":null}}}
    ]},
   {"data":{"values":[{}]},"layer":[
    {"mark":{"type":"text","font":"DejaVu Sans","fontWeight":"bold","fontSize":25,"color":"#FF0000","align":"right"},"encoding":{"x":{"datum":376},"y":{"datum":-9.7},"text":{"value":"s26s33"}}},
    {"mark":{"type":"text"},"encoding":{"x":{"datum":-9.94},"y":{"datum":7.485},"text":{"value":"YSPT"}}},
    {"mark":{"type":"text","color":"#FF0000","fontWeight":"bold"},"encoding":{"x":{"datum":83.98},"y":{"datum":7.485},"text":{"value":"S"}}},
    {"mark":{"type":"text","color":"#FF0000","fontWeight":"bold","fontSize":14},"encoding":{"x":{"datum":107.97},"y":{"datum":7.225},"text":{"value":"5"}}},
    {"mark":{"type":"text"},"encoding":{"x":{"datum":121.95},"y":{"datum":7.485},"text":{"value":"PA"}}},
    {"mark":{"type":"text","color":"#7030A0"},"encoding":{"x":{"datum":169.92},"y":{"datum":7.485},"text":{"value":"|"}}},
    {"mark":{"type":"text"},"encoding":{"x":{"datum":179.27},"y":{"datum":7.485},"text":{"value":"YSPG"}}},
    {"mark":{"type":"text","color":"#FF0000","fontWeight":"bold"},"encoding":{"x":{"datum":279.19},"y":{"datum":7.485},"text":{"value":"S"}}},
    {"mark":{"type":"text","color":"#FF0000","fontWeight":"bold","fontSize":14},"encoding":{"x":{"datum":303.17},"y":{"datum":7.225},"text":{"value":"5"}}},
    {"mark":{"type":"text"},"encoding":{"x":{"datum":317.16},"y":{"datum":7.485},"text":{"value":"PK"}}},
    {"mark":{"type":"text","color":"#7030A0","fontWeight":"bold","fontSize":15,"align":"center"},"encoding":{"x":{"datum":89.5},"y":{"datum":8.9},"text":{"value":"2"}}},
    {"mark":{"type":"text","color":"#7030A0","fontWeight":"bold","fontSize":15,"align":"center"},"encoding":{"x":{"datum":271.1},"y":{"datum":8.9},"text":{"value":"3"}}}
   ]}
  ]},
  {"width":267,"height":275,"layer":[
   {"data":{"name":"d"},"transform":[{"filter":"datum.p==='s40s47'"}],
    "encoding":{"x":{"field":"t","type":"quantitative","title":null,"scale":{"domain":[-66,414],"nice":false,"zero":false},"axis":{"values":[0.1,120,240,360],"tickCount":20,"labelExpr":"datum.value + ''","labelFontSize":25,"labelOverlap":false,"tickSize":5,"labelPadding":3,"title":"Reaction Time (min)","titleFont":"Liberation Sans","titleFontSize":31,"titleX":277,"titleY":74,"titleBaseline":"alphabetic","titleAlign":"center"}}},
    "layer":[
     {"mark":{"type":"rule","color":"#3A95F0","strokeWidth":2},"encoding":{"y":{"field":"lo","type":"quantitative","title":null,"scale":{"domain":[-11.05,6.9],"nice":false,"zero":false},"axis":{"values":[-10,-8,-6,-4,-2,0,2,4,6],"tickCount":20,"labels":false,"tickSize":3,"title":null}},"y2":{"field":"hi"}}},
     {"mark":{"type":"tick","orient":"horizontal","color":"#3A95F0","size":27,"thickness":2,"opacity":1},"encoding":{"y":{"field":"lo","type":"quantitative","title":null}}},
     {"mark":{"type":"tick","orient":"horizontal","color":"#3A95F0","size":27,"thickness":2,"opacity":1},"encoding":{"y":{"field":"hi","type":"quantitative","title":null}}},
     {"mark":{"type":"line","color":"#3A95F0","strokeWidth":2},"encoding":{"y":{"field":"m","type":"quantitative","title":null}}},
     {"mark":{"type":"point","filled":true,"color":"#3A95F0","size":20,"opacity":1},"encoding":{"y":{"field":"m","type":"quantitative","title":null}}}
    ]},
   {"data":{"values":[{}]},"layer":[
    {"mark":{"type":"text","font":"DejaVu Sans","fontWeight":"bold","fontSize":25,"color":"#FF0000","align":"right"},"encoding":{"x":{"datum":376},"y":{"datum":-9.7},"text":{"value":"s40s47"}}},
    {"mark":{"type":"text"},"encoding":{"x":{"datum":-6.93},"y":{"datum":7.485},"text":{"value":"YSPT"}}},
    {"mark":{"type":"text","color":"#FF0000","fontWeight":"bold"},"encoding":{"x":{"datum":86.99},"y":{"datum":7.485},"text":{"value":"S"}}},
    {"mark":{"type":"text","color":"#FF0000","fontWeight":"bold","fontSize":14},"encoding":{"x":{"datum":110.97},"y":{"datum":7.225},"text":{"value":"5"}}},
    {"mark":{"type":"text"},"encoding":{"x":{"datum":124.96},"y":{"datum":7.485},"text":{"value":"PS"}}},
    {"mark":{"type":"text","color":"#7030A0"},"encoding":{"x":{"datum":172.92},"y":{"datum":7.485},"text":{"value":"|"}}},
    {"mark":{"type":"text"},"encoding":{"x":{"datum":182.27},"y":{"datum":7.485},"text":{"value":"YSPT"}}},
    {"mark":{"type":"text","color":"#FF0000","fontWeight":"bold"},"encoding":{"x":{"datum":276.19},"y":{"datum":7.485},"text":{"value":"S"}}},
    {"mark":{"type":"text","color":"#FF0000","fontWeight":"bold","fontSize":14},"encoding":{"x":{"datum":300.17},"y":{"datum":7.225},"text":{"value":"5"}}},
    {"mark":{"type":"text"},"encoding":{"x":{"datum":314.16},"y":{"datum":7.485},"text":{"value":"PK"}}},
    {"mark":{"type":"text","color":"#7030A0","fontWeight":"bold","fontSize":15,"align":"center"},"encoding":{"x":{"datum":89.5},"y":{"datum":8.9},"text":{"value":"4*"}}},
    {"mark":{"type":"text","color":"#7030A0","fontWeight":"bold","fontSize":15,"align":"center"},"encoding":{"x":{"datum":271.1},"y":{"datum":8.9},"text":{"value":"5*"}}}
   ]}
  ]},
  {"width":267,"height":275,"layer":[
   {"data":{"name":"d"},"transform":[{"filter":"datum.p==='s166s173'"}],
    "encoding":{"x":{"field":"t","type":"quantitative","title":null,"scale":{"domain":[-66,414],"nice":false,"zero":false},"axis":{"values":[0.1,120,240,360],"tickCount":20,"labelExpr":"datum.value + ''","labelFontSize":25,"labelOverlap":false,"tickSize":5,"labelPadding":3,"title":null}}},
    "layer":[
     {"mark":{"type":"rule","color":"#14AE3D","strokeWidth":2},"encoding":{"y":{"field":"lo","type":"quantitative","title":null,"scale":{"domain":[-11.05,6.9],"nice":false,"zero":false},"axis":{"values":[-10,-8,-6,-4,-2,0,2,4,6],"tickCount":20,"labels":false,"tickSize":3,"title":null}},"y2":{"field":"hi"}}},
     {"mark":{"type":"tick","orient":"horizontal","color":"#14AE3D","size":27,"thickness":2,"opacity":1},"encoding":{"y":{"field":"lo","type":"quantitative","title":null}}},
     {"mark":{"type":"tick","orient":"horizontal","color":"#14AE3D","size":27,"thickness":2,"opacity":1},"encoding":{"y":{"field":"hi","type":"quantitative","title":null}}},
     {"mark":{"type":"line","color":"#14AE3D","strokeWidth":2},"encoding":{"y":{"field":"m","type":"quantitative","title":null}}},
     {"mark":{"type":"point","filled":true,"color":"#14AE3D","size":20,"opacity":1},"encoding":{"y":{"field":"m","type":"quantitative","title":null}}}
    ]},
   {"data":{"values":[{}]},"layer":[
    {"mark":{"type":"text","font":"DejaVu Sans","fontWeight":"bold","fontSize":25,"color":"#FF0000","align":"right"},"encoding":{"x":{"datum":376},"y":{"datum":-9.7},"text":{"value":"s166s173"}}},
    {"mark":{"type":"text"},"encoding":{"x":{"datum":-7.92},"y":{"datum":7.485},"text":{"value":"YSPT"}}},
    {"mark":{"type":"text","color":"#FF0000","fontWeight":"bold"},"encoding":{"x":{"datum":86.0},"y":{"datum":7.485},"text":{"value":"S"}}},
    {"mark":{"type":"text","color":"#FF0000","fontWeight":"bold","fontSize":14},"encoding":{"x":{"datum":109.98},"y":{"datum":7.225},"text":{"value":"5"}}},
    {"mark":{"type":"text"},"encoding":{"x":{"datum":123.97},"y":{"datum":7.485},"text":{"value":"PN"}}},
    {"mark":{"type":"text","color":"#7030A0"},"encoding":{"x":{"datum":173.91},"y":{"datum":7.485},"text":{"value":"|"}}},
    {"mark":{"type":"text"},"encoding":{"x":{"datum":183.26},"y":{"datum":7.485},"text":{"value":"YSPT"}}},
    {"mark":{"type":"text","color":"#FF0000","fontWeight":"bold"},"encoding":{"x":{"datum":277.18},"y":{"datum":7.485},"text":{"value":"S"}}},
    {"mark":{"type":"text","color":"#FF0000","fontWeight":"bold","fontSize":14},"encoding":{"x":{"datum":301.16},"y":{"datum":7.225},"text":{"value":"5"}}},
    {"mark":{"type":"text"},"encoding":{"x":{"datum":315.15},"y":{"datum":7.485},"text":{"value":"PK"}}},
    {"mark":{"type":"text","color":"#7030A0","fontWeight":"bold","fontSize":15,"align":"center"},"encoding":{"x":{"datum":89.5},"y":{"datum":8.9},"text":{"value":"22"}}},
    {"mark":{"type":"text","color":"#7030A0","fontWeight":"bold","fontSize":15,"align":"center"},"encoding":{"x":{"datum":271.1},"y":{"datum":8.9},"text":{"value":"23"}}}
   ]}
  ]}
 ],
 "config": {
  "view": {"stroke": "#4d4d4d", "strokeWidth": 1.4},
  "axis": {"grid": true, "gridColor": "#ebebeb", "gridWidth": 1.2, "domain": false, "tickColor": "#333333", "tickWidth": 1.2, "labelColor": "#000000", "labelFont": "DejaVu Sans", "labelOverlap": false, "titleFont": "DejaVu Sans", "titleFontWeight": "normal", "titleColor": "#000000"},
  "text": {"font": "Liberation Sans", "fontSize": 20, "color": "#000000", "align": "left", "baseline": "alphabetic", "clip": false}
 }
}
